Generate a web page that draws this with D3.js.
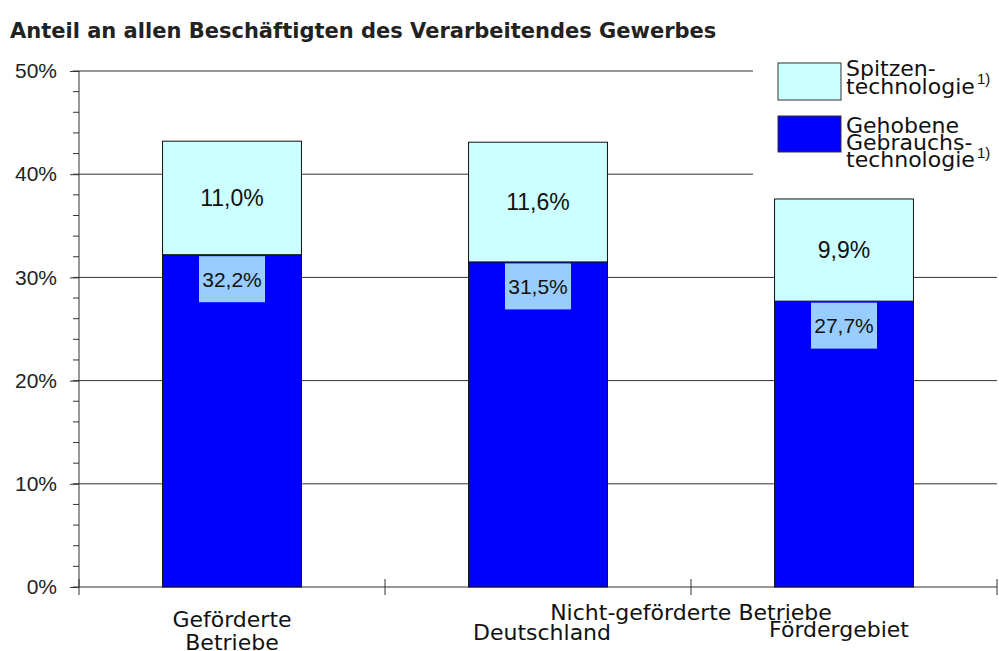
<!DOCTYPE html>
<html>
<head>
<meta charset="utf-8">
<script src="https://cdn.jsdelivr.net/npm/d3@7"></script>
<style>
  body { margin: 0; background: #fff; }
  svg { display: block; }
</style>
</head>
<body>
<div id="chart"></div>
<script>
const categories = ["Geförderte Betriebe", "Nicht-gef. Deutschland", "Nicht-gef. Fördergebiet"];
const gehobene = [32.2, 31.5, 27.7];
const spitzen = [11.0, 11.6, 9.9];
const yTicks = [0, 10, 20, 30, 40, 50];
const seriesNames = ["Spitzentechnologie", "Gehobene Gebrauchstechnologie"];

const W = 999, H = 651;
const margin = { top: 71, right: 2, bottom: 64, left: 79 };
const width = W - margin.left - margin.right;
const height = H - margin.top - margin.bottom;

const fmt = v => v.toFixed(1).replace(".", ",") + "%";

const svg = d3.select("#chart").append("svg")
  .attr("width", W)
  .attr("height", H);

svg.append("text")
  .attr("x", 10)
  .attr("y", 38)
  .style("font-family", "DejaVu Sans")
  .style("font-size", "21px")
  .style("font-weight", "bold")
  .attr("fill", "#222")
  .text("Anteil an allen Beschäftigten des Verarbeitendes Gewerbes");

const g = svg.append("g").attr("transform", `translate(${margin.left},${margin.top})`);

const x = d3.scaleBand().domain(categories).range([0, width]).paddingInner(0.546).paddingOuter(0.273);
const y = d3.scaleLinear().domain([0, 50]).range([height, 0]);

// gridlines
g.selectAll("line.grid")
  .data(yTicks.filter(d => d > 0))
  .enter().append("line")
  .attr("class", "grid")
  .attr("x1", 0).attr("x2", width)
  .attr("y1", d => y(d)).attr("y2", d => y(d))
  .attr("stroke", "#333").attr("stroke-width", 1);

// minor ticks
g.selectAll("line.minor")
  .data(d3.range(0, 51, 2))
  .enter().append("line")
  .attr("x1", -6).attr("x2", 0)
  .attr("y1", d => y(d)).attr("y2", d => y(d))
  .attr("stroke", "#333");

const yAxis = g.append("g")
  .call(d3.axisLeft(y).tickValues(yTicks).tickSize(9).tickPadding(13).tickFormat(d => d + "%"));
yAxis.select(".domain").attr("stroke", "#333").attr("d", `M0,${height}V0`);
yAxis.selectAll(".tick line").attr("stroke", "#333");
yAxis.selectAll("text")
  .style("font-family", "Liberation Sans")
  .style("font-size", "21px")
  .attr("fill", "#222");

// x axis line with crossing ticks at group edges
g.append("line")
  .attr("x1", 0).attr("x2", width)
  .attr("y1", height).attr("y2", height)
  .attr("stroke", "#333");
g.selectAll("line.xtick")
  .data(d3.range(0, categories.length + 1))
  .enter().append("line")
  .attr("x1", i => i * width / categories.length)
  .attr("x2", i => i * width / categories.length)
  .attr("y1", height - 8).attr("y2", height + 8)
  .attr("stroke", "#333");

// bars
const bars = g.selectAll("g.bar")
  .data(categories.map((c, i) => ({ c, low: gehobene[i], high: spitzen[i] })))
  .enter().append("g");

bars.append("rect")
  .attr("x", d => x(d.c))
  .attr("y", d => y(d.low))
  .attr("width", x.bandwidth())
  .attr("height", d => height - y(d.low))
  .attr("fill", "#0000FF")
  .attr("stroke", "#111");

bars.append("rect")
  .attr("x", d => x(d.c))
  .attr("y", d => y(d.low + d.high))
  .attr("width", x.bandwidth())
  .attr("height", d => y(d.low) - y(d.low + d.high))
  .attr("fill", "#CCFFFF")
  .attr("stroke", "#111");

bars.append("text")
  .attr("x", d => x(d.c) + x.bandwidth() / 2)
  .attr("y", d => (y(d.low) + y(d.low + d.high)) / 2 + 8)
  .attr("text-anchor", "middle")
  .style("font-family", "Liberation Sans")
  .style("font-size", "23px")
  .attr("fill", "#111")
  .text(d => fmt(d.high));

bars.append("rect")
  .attr("x", d => x(d.c) + x.bandwidth() / 2 - 33)
  .attr("y", d => y(d.low) + 1.5)
  .attr("width", 66)
  .attr("height", 46)
  .attr("fill", "#99CCFF");

bars.append("text")
  .attr("x", d => x(d.c) + x.bandwidth() / 2)
  .attr("y", d => y(d.low) + 32)
  .attr("text-anchor", "middle")
  .style("font-family", "Liberation Sans")
  .style("font-size", "21px")
  .attr("fill", "#111")
  .text(d => fmt(d.low));

// category labels
const catText = (txt, cx, cy) => svg.append("text")
  .attr("x", cx).attr("y", cy)
  .attr("text-anchor", "middle")
  .style("font-family", "DejaVu Sans")
  .style("font-size", "22px")
  .attr("fill", "#111")
  .text(txt);
const cx = i => margin.left + x(categories[i]) + x.bandwidth() / 2;
catText("Geförderte", cx(0), 627);
catText("Betriebe", cx(0), 650);
catText("Nicht-geförderte Betriebe", margin.left + 2 * width / 3, 620);
catText("Deutschland", cx(1) + 4, 640);
catText("Fördergebiet", cx(2) - 5, 637);

// legend
const leg = svg.append("g");
leg.append("rect")
  .attr("x", 753).attr("y", 52).attr("width", 246).attr("height", 136)
  .attr("fill", "#fff");
leg.append("rect")
  .attr("x", 778).attr("y", 63).attr("width", 63).attr("height", 37)
  .attr("fill", "#CCFFFF").attr("stroke", "#333");
leg.append("rect")
  .attr("x", 778).attr("y", 116).attr("width", 63).attr("height", 36)
  .attr("fill", "#0000FF").attr("stroke", "#333");

const legLines = [
  [["Spitzen-", 76], ["technologie", 94]],
  [["Gehobene", 133], ["Gebrauchs-", 150], ["technologie", 167]]
];
legLines.forEach((lines, i) => {
  const t = leg.append("text")
    .attr("aria-label", seriesNames[i])
    .style("font-family", "DejaVu Sans")
    .style("font-size", "22px")
    .attr("fill", "#111");
  lines.forEach(([s, yy]) => {
    t.append("tspan").attr("x", 846).attr("y", yy).text(s);
  });
  leg.append("text")
    .attr("x", 977).attr("y", i === 0 ? 84 : 158)
    .style("font-family", "Liberation Sans")
    .style("font-size", "15px")
    .attr("fill", "#111")
    .text("1)");
});
</script>
</body>
</html>
